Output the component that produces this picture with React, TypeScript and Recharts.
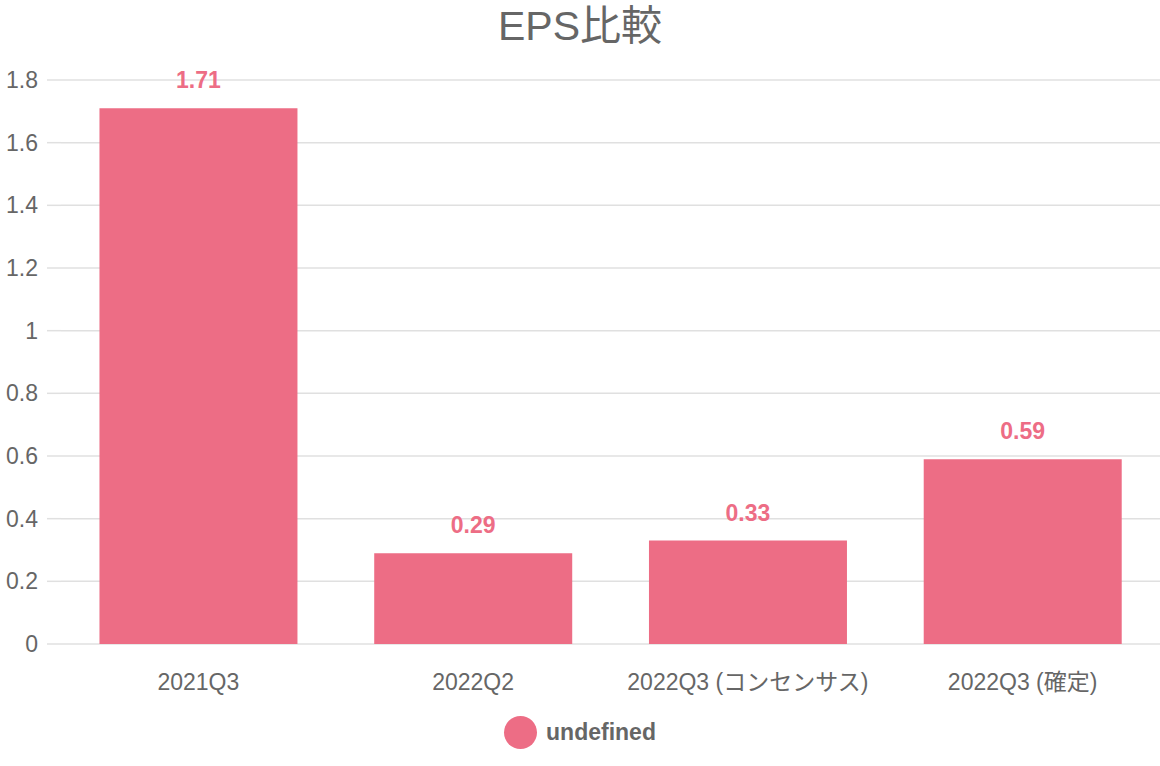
import { BarChart, Bar, XAxis, YAxis, CartesianGrid, LabelList } from "recharts";

const categories = ["2021Q3", "2022Q2", "2022Q3 (コンセンサス)", "2022Q3 (確定)"];
const epsValues = [1.71, 0.29, 0.33, 0.59];
const yTicks = [0, 0.2, 0.4, 0.6, 0.8, 1, 1.2, 1.4, 1.6, 1.8];

const data = categories.map((name, i) => ({ name, eps: epsValues[i] }));

const FONT = '"Liberation Sans", Arial, "Noto Sans CJK JP", sans-serif';
const PINK = "#ED6D85";
const GREY = "#666";

export default function App() {
  return (
    <div
      style={{
        position: "absolute",
        left: 0,
        top: 0,
        width: 1160,
        height: 766,
        background: "#fff",
        fontFamily: FONT,
      }}
    >
      <div
        style={{
          position: "absolute",
          top: 2,
          left: 0,
          width: 1160,
          textAlign: "center",
          fontSize: 41,
          color: GREY,
          lineHeight: "48px",
        }}
      >
        EPS比較
      </div>
      <BarChart
        width={1160}
        height={766}
        data={data}
        margin={{ top: 80, right: 0, left: 0, bottom: 62 }}
        barCategoryGap="14%"
      >
        <CartesianGrid vertical={false} stroke="#e0e0e0" strokeWidth={1.5} />
        <XAxis
          dataKey="name"
          height={60}
          axisLine={false}
          tickLine={false}
          tickSize={0}
          tickMargin={30}
          interval={0}
          tick={{ fill: GREY, fontSize: 23, fontFamily: FONT }}
        />
        <YAxis
          width={61}
          domain={[0, 1.8]}
          ticks={yTicks}
          axisLine={false}
          tickLine={{ stroke: "#e0e0e0", strokeWidth: 1.5 }}
          tickSize={14}
          tickMargin={9}
          tick={{ fill: GREY, fontSize: 23, fontFamily: FONT }}
        />
        <Bar dataKey="eps" fill={PINK} isAnimationActive={false}>
          <LabelList
            dataKey="eps"
            position="top"
            offset={20}
            fill={PINK}
            fontSize={23}
            fontWeight="bold"
            fontFamily={FONT}
          />
        </Bar>
      </BarChart>
      <div
        style={{
          position: "absolute",
          top: 716,
          left: 0,
          width: 1160,
          display: "flex",
          justifyContent: "center",
          alignItems: "center",
          gap: 9,
        }}
      >
        <span
          style={{
            display: "inline-block",
            width: 33,
            height: 33,
            borderRadius: "50%",
            background: PINK,
          }}
        />
        <span style={{ fontSize: 23, fontWeight: "bold", color: GREY }}>undefined</span>
      </div>
    </div>
  );
}
